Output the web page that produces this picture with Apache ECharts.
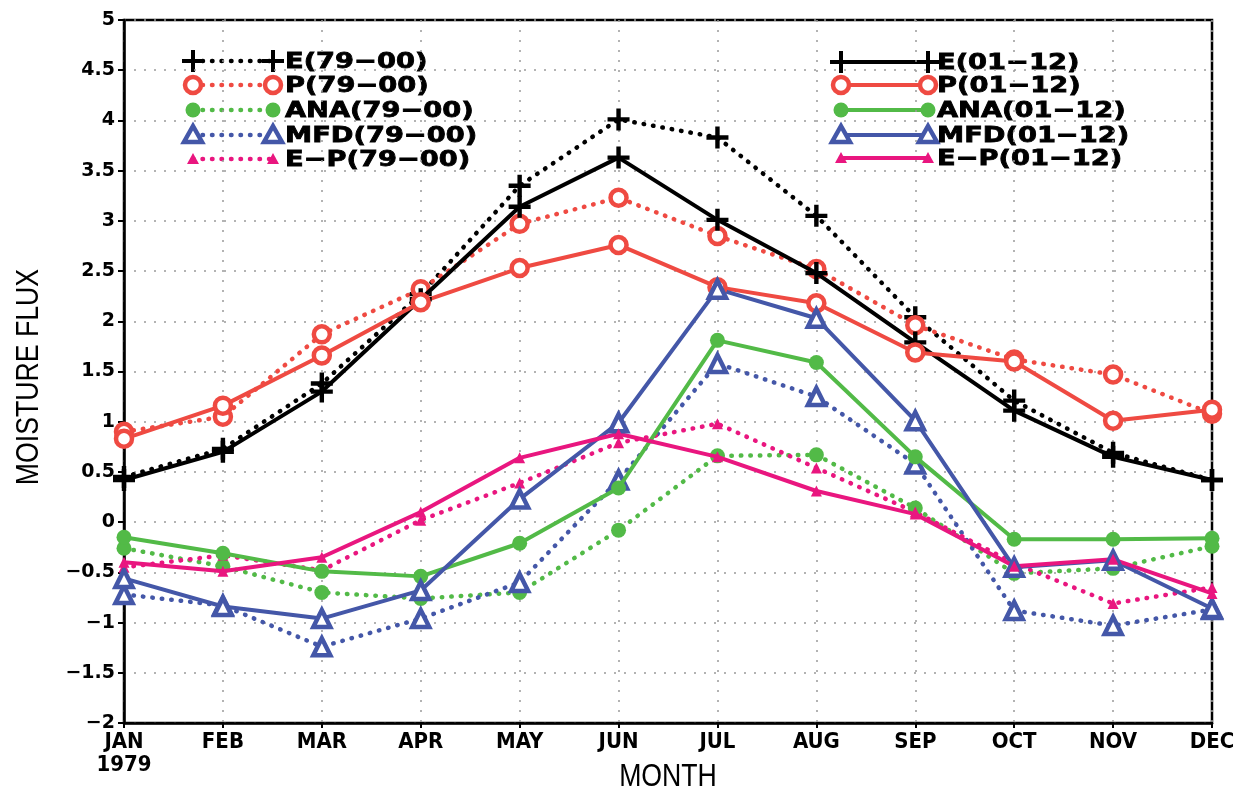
<!DOCTYPE html>
<html>
<head>
<meta charset="utf-8">
<script src="https://cdn.jsdelivr.net/npm/echarts@6/dist/echarts.min.js"></script>
<style>
  html, body { margin: 0; padding: 0; background: #fff; }
  #chart { width: 1245px; height: 795px; }
</style>
</head>
<body>
<div id="chart"></div>
<script>
// 月份
const months = ['JAN', 'FEB', 'MAR', 'APR', 'MAY', 'JUN', 'JUL', 'AUG', 'SEP', 'OCT', 'NOV', 'DEC'];
const yTicks = { min: -2, max: 5, step: 0.5 };

// 1979-2000 平均（虚线）
const e7900   = [0.45, 0.73, 1.38, 2.27, 3.35, 4.01, 3.83, 3.05, 2.04, 1.21, 0.69, 0.42];
const p7900   = [0.90, 1.05, 1.87, 2.32, 2.97, 3.23, 2.85, 2.52, 1.96, 1.62, 1.47, 1.08];
const ana7900 = [-0.26, -0.44, -0.70, -0.76, -0.70, -0.08, 0.66, 0.67, 0.14, -0.51, -0.46, -0.24];
const mfd7900 = [-0.72, -0.83, -1.24, -0.96, -0.60, 0.42, 1.58, 1.25, 0.58, -0.88, -1.03, -0.87];
const ep7900  = [-0.45, -0.33, -0.48, 0.02, 0.39, 0.79, 0.98, 0.54, 0.10, -0.41, -0.81, -0.65];

// 2001-2012 平均（实线）
const e0112   = [0.42, 0.70, 1.30, 2.22, 3.14, 3.63, 3.01, 2.48, 1.79, 1.11, 0.65, 0.42];
const p0112   = [0.83, 1.16, 1.66, 2.19, 2.53, 2.76, 2.34, 2.18, 1.69, 1.60, 1.01, 1.12];
const ana0112 = [-0.15, -0.31, -0.49, -0.54, -0.21, 0.34, 1.81, 1.59, 0.65, -0.17, -0.17, -0.16];
const mfd0112 = [-0.56, -0.84, -0.96, -0.68, 0.23, 0.99, 2.32, 2.03, 1.01, -0.45, -0.38, -0.86];
const ep0112  = [-0.40, -0.49, -0.35, 0.10, 0.64, 0.88, 0.65, 0.31, 0.08, -0.44, -0.37, -0.71];

const C = { e: '#000000', p: '#ef4a42', ana: '#52ba47', mfd: '#4457a8', ep: '#e9167f' };
const PLUS = 'path://M8,0h4v8h8v4h-8v8h-4v-8h-8v-4h8z';

// 每种变量的标记样式
const marks = {
  e:   { symbol: PLUS, size: 22, fill: C.e, border: 0 },
  p:   { symbol: 'circle', size: 16, fill: '#fff', border: 4.5 },
  ana: { symbol: 'circle', size: 15, fill: C.ana, border: 0 },
  mfd: { symbol: 'triangle', size: 17, fill: '#fff', border: 4.5 },
  ep:  { symbol: 'triangle', size: 11, fill: C.ep, border: 0 }
};

const makeSeries = (name, key, data, dotted) => {
  const m = marks[key];
  return {
    name: name,
    type: 'line',
    data: data,
    symbol: m.symbol,
    symbolSize: m.size,
    showAllSymbol: true,
    lineStyle: dotted
      ? { color: C[key], width: 4.5, type: [0.5, 9], cap: 'round' }
      : { color: C[key], width: 4 },
    itemStyle: { color: m.fill, borderColor: C[key], borderWidth: m.border, opacity: 1 },
    z: dotted ? 2 : 3
  };
};

// 图例（手绘，两端带标记）
const legendMarker = (key, cx, cy) => {
  const col = C[key];
  if (key === 'e') {
    return { type: 'group', x: cx, y: cy, children: [
      { type: 'rect', shape: { x: -11, y: -2, width: 22, height: 4 }, style: { fill: col } },
      { type: 'rect', shape: { x: -2, y: -11, width: 4, height: 22 }, style: { fill: col } }
    ] };
  }
  if (key === 'p') return { type: 'circle', shape: { cx: cx, cy: cy, r: 8 }, style: { fill: '#fff', stroke: col, lineWidth: 4.5 } };
  if (key === 'ana') return { type: 'circle', shape: { cx: cx, cy: cy, r: 7.5 }, style: { fill: col } };
  if (key === 'mfd') return { type: 'polygon', shape: { points: [[cx, cy - 9], [cx + 9, cy + 7], [cx - 9, cy + 7]] }, style: { fill: '#fff', stroke: col, lineWidth: 4.5 } };
  return { type: 'polygon', shape: { points: [[cx, cy - 6], [cx + 6, cy + 5], [cx - 6, cy + 5]] }, style: { fill: col } };
};

const legendRow = (key, label, x0, x1, tx, y, dotted) => {
  const items = [];
  items.push({
    type: 'line', shape: { x1: x0, y1: y, x2: x1, y2: y },
    style: dotted
      ? { stroke: C[key], lineWidth: 4.5, lineDash: [0.5, 9], lineCap: 'round' }
      : { stroke: C[key], lineWidth: 4 }
  });
  items.push(legendMarker(key, x0, y));
  items.push(legendMarker(key, x1, y));
  items.push({
    type: 'text', x: tx, y: y + 1, scaleX: 1.24,
    style: { text: label, fill: '#000', font: 'bold 22px "DejaVu Sans"', verticalAlign: 'middle', textAlign: 'left', stroke: '#000', lineWidth: 0.8 }
  });
  return items;
};

const keys = ['e', 'p', 'ana', 'mfd', 'ep'];
const labels = ['E', 'P', 'ANA', 'MFD', 'E−P'];
const leftRows = [61, 85, 110, 135, 159];
const rightRows = [62, 85, 110, 135, 158];

let graphics = [];
keys.forEach((k, i) => {
  graphics = graphics.concat(legendRow(k, labels[i] + '(79−00)', 193, 273, 285, leftRows[i], true));
  graphics = graphics.concat(legendRow(k, labels[i] + '(01−12)', 841, 928, 937, rightRows[i], false));
});
graphics.push({
  type: 'text', x: 29, y: 377, rotation: Math.PI / 2, scaleX: 0.86,
  style: { text: 'MOISTURE FLUX', fill: '#000', font: '31px "Liberation Sans"', textAlign: 'center', verticalAlign: 'middle' }
});
graphics.push({
  type: 'text', x: 668, y: 777, scaleX: 0.86,
  style: { text: 'MONTH', fill: '#000', font: '31px "Liberation Sans"', textAlign: 'center', verticalAlign: 'middle' }
});

const chart = echarts.init(document.getElementById('chart'));
chart.setOption({
  animation: false,
  backgroundColor: '#fff',
  grid: { left: 124, right: 33, top: 20, bottom: 72, show: true, borderColor: '#000', borderWidth: 2.5, containLabel: false },
  xAxis: {
    type: 'category',
    data: months,
    boundaryGap: false,
    axisLine: { onZero: false, lineStyle: { color: '#000', width: 2.5 } },
    axisTick: { show: true, length: 5, lineStyle: { color: '#000', width: 2 } },
    axisLabel: {
      color: '#000', fontWeight: 'bold', fontSize: 22, lineHeight: 23, margin: 8,
      fontFamily: '"Liberation Sans Narrow", "DejaVu Sans Condensed", "Liberation Sans"',
      formatter: (v, i) => (i === 0 ? v + '\n1979' : v)
    },
    splitLine: { show: true, lineStyle: { color: '#9a9a9a', width: 1.5, type: [2, 8] } }
  },
  yAxis: {
    type: 'value',
    min: yTicks.min, max: yTicks.max, interval: yTicks.step,
    axisLine: { show: true, onZero: false, lineStyle: { color: '#000', width: 2.5 } },
    axisTick: { show: true, length: 6, lineStyle: { color: '#000', width: 2 } },
    axisLabel: {
      color: '#000', fontWeight: 'bold', fontSize: 19, margin: 9, fontFamily: '"DejaVu Sans"',
      formatter: v => String(v).replace('-', '−')
    },
    splitLine: { show: true, lineStyle: { color: '#9a9a9a', width: 1.5, type: [2, 8] } }
  },
  series: [
    makeSeries('E(79-00)', 'e', e7900, true),
    makeSeries('P(79-00)', 'p', p7900, true),
    makeSeries('ANA(79-00)', 'ana', ana7900, true),
    makeSeries('MFD(79-00)', 'mfd', mfd7900, true),
    makeSeries('E-P(79-00)', 'ep', ep7900, true),
    makeSeries('E(01-12)', 'e', e0112, false),
    makeSeries('P(01-12)', 'p', p0112, false),
    makeSeries('ANA(01-12)', 'ana', ana0112, false),
    makeSeries('MFD(01-12)', 'mfd', mfd0112, false),
    makeSeries('E-P(01-12)', 'ep', ep0112, false)
  ],
  graphic: graphics
});
</script>
</body>
</html>
